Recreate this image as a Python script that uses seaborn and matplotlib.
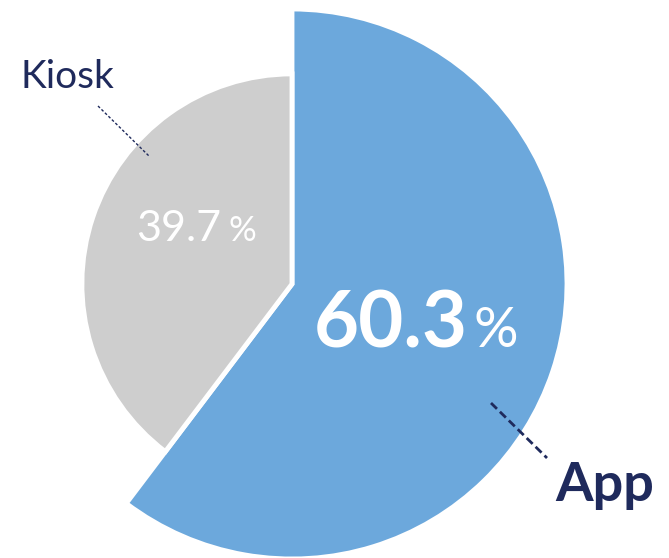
import matplotlib
matplotlib.use("Agg")
import matplotlib.pyplot as plt
import seaborn as sns

# ---- data ----
categories = ["App", "Kiosk"]
shares = [60.3, 39.7]
radii = [1.0, 0.764]
colors = ["#6CA8DC", "#CECECE"]
navy = "#1F2A5C"

sns.set_style("white")
plt.rcParams["font.family"] = ["Lato", "DejaVu Sans"]

W, H = 669, 558
fig = plt.figure(figsize=(W / 100, H / 100), dpi=100)
ax = fig.add_axes([0, 0, 1, 1])

CX, CY, S = 292, 284, 275  # pixel centre and pixels per unit


def P(px, py):
    return (px - CX) / S, (CY - py) / S


wedges, _ = ax.pie(shares, colors=colors, startangle=90, counterclock=False,
                   wedgeprops=dict(edgecolor="white", linewidth=3.5))
for w, r in zip(wedges, radii):
    w.set_radius(r)

ax.set_aspect("auto")
ax.set_xlim(-CX / S, (W - CX) / S)
ax.set_ylim(-(H - CY) / S, CY / S)
ax.axis("off")

# value labels
ax.text(*P(468, 347), f"{shares[0]:.1f}", color="white", fontsize=56,
        fontweight="bold", ha="right", va="baseline")
ax.text(*P(474, 347), "%", color="white", fontsize=40, ha="left", va="baseline")
ax.text(*P(221, 241), f"{shares[1]:.1f}", color="white", fontsize=31,
        ha="right", va="baseline")
ax.text(*P(228, 241), "%", color="white", fontsize=25, ha="left", va="baseline")

# category labels
ax.text(*P(21, 88), categories[1], color=navy, fontsize=28,
        ha="left", va="baseline")
ax.text(*P(555, 501), categories[0], color=navy, fontsize=39, fontweight="bold",
        ha="left", va="baseline")

# leader lines
x0, y0 = P(98, 106); x1, y1 = P(150, 157)
ax.plot([x0, x1], [y0, y1], color=navy, lw=1.0, ls=(0, (2, 1.5)))
x0, y0 = P(491, 403); x1, y1 = P(547, 458)
ax.plot([x0, x1], [y0, y1], color=navy, lw=2.0, ls=(0, (3, 1.5)))

fig.savefig("out.png", dpi=100)
